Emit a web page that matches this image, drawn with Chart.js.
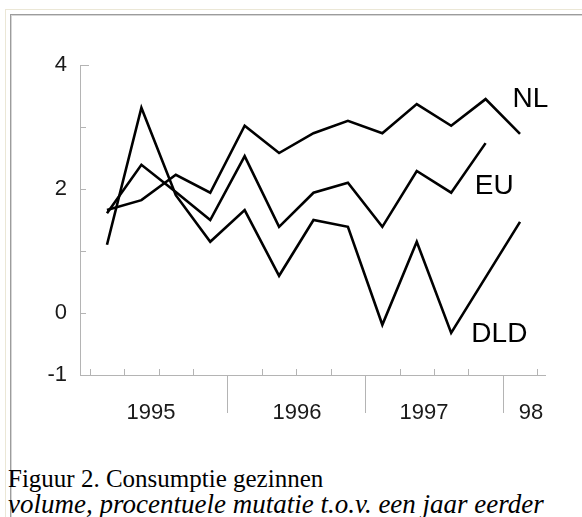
<!DOCTYPE html>
<html>
<head>
<meta charset="utf-8">
<script src="https://cdn.jsdelivr.net/npm/chart.js@4"></script>
<style>
  html, body { margin: 0; padding: 0; background: #fff; overflow: hidden; }
  body { width: 582px; height: 517px; position: relative; }
  .frame-outer { position: absolute; left: 5px; top: 9px; width: 900px; height: 900px; border: 1px solid #ebe7d6; }
  .frame-inner { position: absolute; left: 10px; top: 14px; width: 900px; height: 900px; border: 1px solid #9c9c9c; box-shadow: inset 1px 1px 0 #d6d6d6; }
  #chart { position: absolute; left: 0; top: 0; }
  .caption { position: absolute; left: 8px; top: 466px; font-family: "Liberation Serif", "Times New Roman", serif; color: #000; white-space: nowrap; }
  .caption div { font-size: 25px; line-height: 26px; }
  .caption i { display: block; font-size: 27px; line-height: 24px; }
</style>
</head>
<body>
<div class="frame-outer"></div>
<div class="frame-inner"></div>
<canvas id="chart" width="582" height="440"></canvas>
<div class="caption"><div>Figuur 2. Consumptie gezinnen</div><i>volume, procentuele mutatie t.o.v. een jaar eerder</i></div>

<script>
// Quarters 1995 Q1 .. 1998 Q1
const quarters = ['95-1', '95-2', '95-3', '95-4', '96-1', '96-2', '96-3', '96-4', '97-1', '97-2', '97-3', '97-4', '98-1'];

// Volume change in % vs a year earlier
const nlValues  = [1.66, 1.82, 2.23, 1.94, 3.02, 2.58, 2.90, 3.10, 2.90, 3.37, 3.02, 3.45, 2.89];
const euValues  = [1.61, 2.39, 1.95, 1.50, 2.53, 1.39, 1.94, 2.10, 1.39, 2.29, 1.94, 2.74, null];
const dldValues = [1.10, 3.31, 1.90, 1.15, 1.66, 0.60, 1.50, 1.39, -0.19, 1.15, -0.32, null, 1.47];

const seriesNames = ['NL', 'EU', 'DLD'];

// Axis labels
const yTickLabels = [4, 2, 0, -1];
const yearLabels = ['1995', '1996', '1997', '98'];

const axisGray = '#b4b4b4';
const labelFont = '"Liberation Sans", Arial, sans-serif';

function toPoints(values) {
    return values.map((v, i) => ({ x: i, y: v }));
}

// Inner ticks, year separators and series names
const axisMarks = {
    id: 'axisMarks',
    afterDraw(chart, args, opts) {
        const ctx = chart.ctx;
        const x = chart.scales.x;
        const y = chart.scales.y;
        const area = chart.chartArea;
        ctx.save();
        ctx.strokeStyle = axisGray;
        ctx.lineWidth = 1;
        ctx.beginPath();
        // y ticks pointing inward
        for (let v = 0; v <= 4; v++) {
            const py = Math.round(y.getPixelForValue(v)) + 0.5;
            ctx.moveTo(area.left, py);
            ctx.lineTo(area.left + (v === 4 ? 9 : 6), py);
        }
        // x ticks between quarters, pointing inward
        for (let i = 0; i <= quarters.length; i++) {
            const px = Math.round(x.getPixelForValue(i - 0.5)) + 0.5;
            if (opts.separators.includes(i - 0.5)) {
                ctx.moveTo(px, area.bottom);
                ctx.lineTo(px, area.bottom + 38);
            } else {
                ctx.moveTo(px, area.bottom);
                ctx.lineTo(px, area.bottom - 6);
            }
        }
        ctx.stroke();

        // series names next to the lines
        ctx.fillStyle = '#000';
        ctx.font = '28px ' + labelFont;
        ctx.textAlign = 'center';
        ctx.textBaseline = 'middle';
        opts.names.forEach((p, i) => {
            ctx.fillText(seriesNames[i], x.getPixelForValue(p[0]), y.getPixelForValue(p[1]));
        });
        ctx.restore();
    }
};

const ctx = document.getElementById('chart').getContext('2d');
new Chart(ctx, {
    type: 'line',
    data: {
        datasets: [nlValues, euValues, dldValues].map((vals, i) => ({
            label: seriesNames[i],
            data: toPoints(vals),
            borderColor: '#000',
            borderWidth: 2.6,
            pointRadius: 0,
            tension: 0,
            fill: false,
            spanGaps: true
        }))
    },
    options: {
        responsive: false,
        animation: false,
        events: [],
        layout: { padding: { top: 65, right: 37, left: 0, bottom: 0 } },
        plugins: {
            legend: { display: false },
            tooltip: { enabled: false },
            axisMarks: {
                separators: [3.5, 7.5, 11.5],
                names: [[12.3, 3.45], [11.25, 2.05], [11.4, -0.35]]
            }
        },
        scales: {
            x: {
                type: 'linear',
                min: -0.784,
                max: 12.726,
                grid: { display: false, drawTicks: false },
                border: { display: true, color: axisGray, width: 1 },
                afterBuildTicks: s => { s.ticks = [1.28, 5.52, 9.21, 12.32].map(v => ({ value: v })); },
                afterFit: s => { s.height = 65; },
                ticks: {
                    autoSkip: false,
                    maxRotation: 0,
                    padding: 25,
                    color: '#1a1a1a',
                    font: { family: labelFont, size: 22 },
                    callback: (v, i) => yearLabels[i]
                }
            },
            y: {
                min: -1,
                max: 4,
                grid: { display: false, drawTicks: false },
                border: { display: true, color: axisGray, width: 1 },
                afterFit: s => { s.width = 80; },
                ticks: {
                    stepSize: 1,
                    padding: 13,
                    color: '#1a1a1a',
                    font: { family: labelFont, size: 22 },
                    callback: v => yTickLabels.includes(v) ? String(v) : ''
                }
            }
        }
    },
    plugins: [axisMarks]
});
</script>
</body>
</html>
